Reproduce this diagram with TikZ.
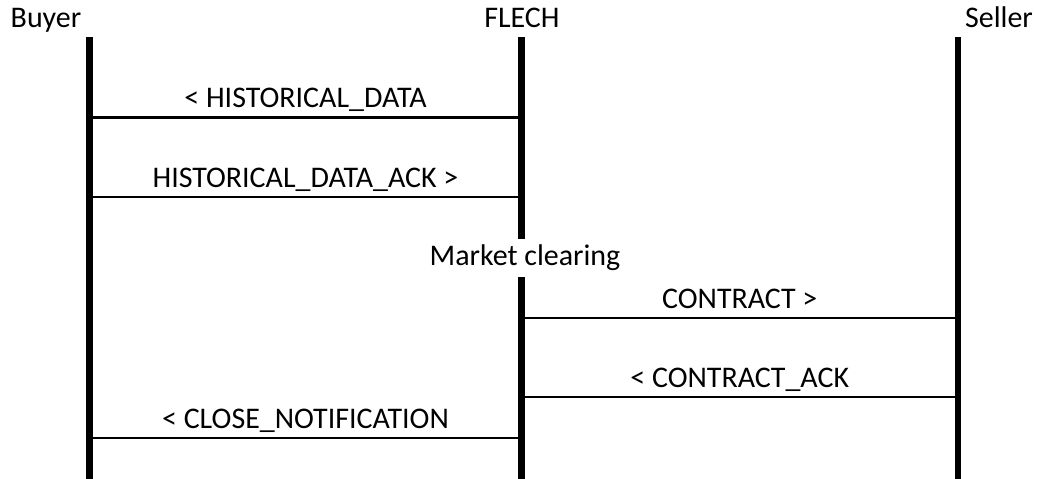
\documentclass[tikz,border=0pt]{standalone}
\usepackage{fontspec}
\setmainfont{Carlito}
\usetikzlibrary{positioning}

\begin{document}
\begin{tikzpicture}[x=0.025cm, y=-0.025cm, font=\fontsize{21.3}{25}\selectfont,
    lifeline/.style={line width=4.6pt},
    msg/.style={line width=1.8pt},
    msglabel/.style={midway, anchor=base, inner sep=0pt, yshift=0.24cm}]
    \useasboundingbox (0,0) rectangle (1041,479);

    \node[anchor=base, inner sep=0pt] (buyer) at (46,28) {Buyer};
    \node[anchor=base, inner sep=0pt] (flech) at (522,28) {FLECH};
    \node[anchor=base, inner sep=0pt] (seller) at (999,28) {Seller};

    \coordinate (bt) at (89.5,37);
    \coordinate (bb) at (89.5,479);
    \coordinate (ft) at (521.5,37);
    \coordinate (fb) at (521.5,479);
    \coordinate (st) at (958,37);
    \coordinate (sb) at (958,479);

    \node[inner xsep=0pt, inner ysep=0pt, minimum height=0.95cm] (clearing) at (525,258) {Market clearing};

    \draw[lifeline] (bt) -- (bb);
    \draw[lifeline] (ft) -- (ft |- clearing.north);
    \draw[lifeline] (ft |- clearing.south) -- (fb);
    \draw[lifeline] (st) -- (sb);

    \coordinate (m1) at (0,117.5);
    \coordinate (m2) at (0,197);
    \coordinate (m3) at (0,318);
    \coordinate (m4) at (0,397);
    \coordinate (m5) at (0,438);

    \draw[msg] (bt |- m1) -- node[msglabel]{< HISTORICAL\_DATA} (ft |- m1);
    \draw[msg] (bt |- m2) -- node[msglabel]{HISTORICAL\_DATA\_ACK >} (ft |- m2);
    \draw[msg] (ft |- m3) -- node[msglabel]{CONTRACT >} (st |- m3);
    \draw[msg] (ft |- m4) -- node[msglabel]{< CONTRACT\_ACK} (st |- m4);
    \draw[msg] (bt |- m5) -- node[msglabel]{< CLOSE\_NOTIFICATION} (ft |- m5);
\end{tikzpicture}
\end{document}
